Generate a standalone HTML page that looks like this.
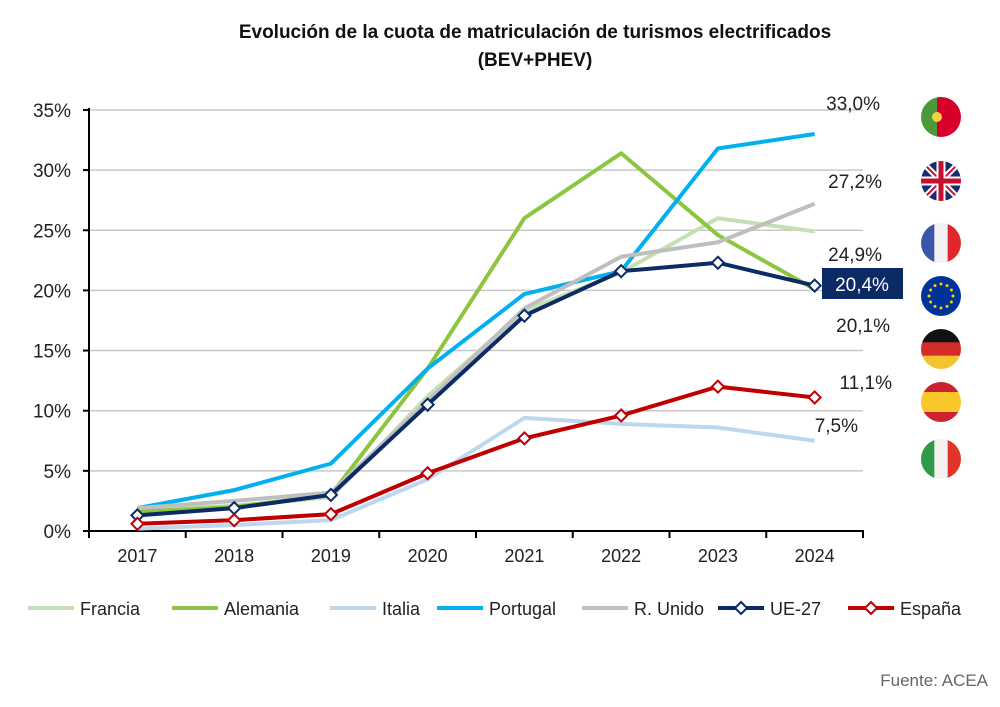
<!DOCTYPE html>
<html><head><meta charset="utf-8"><style>
body{margin:0;background:#fff;width:1000px;height:702px;overflow:hidden;font-family:"Liberation Sans",sans-serif}
</style></head><body>
<svg id="s" width="1000" height="702" xmlns="http://www.w3.org/2000/svg" font-family="Liberation Sans, sans-serif">
<text x="535" y="38" text-anchor="middle" font-size="19" font-weight="bold" fill="#111">Evolución de la cuota de matriculación de turismos electrificados</text>
<text x="535" y="66" text-anchor="middle" font-size="19" font-weight="bold" fill="#111">(BEV+PHEV)</text>
<text x="988" y="686" text-anchor="end" font-size="17" fill="#666">Fuente: ACEA</text>
</svg>
<script>
const s=document.getElementById('s');const NS='http://www.w3.org/2000/svg';
function el(t,a,txt){const e=document.createElementNS(NS,t);for(const k in a)e.setAttribute(k,a[k]);if(txt!=null)e.textContent=txt;s.appendChild(e);return e;}
const Y=v=>531-v*12.03, X=i=>137.4+i*96.75;
for(let k=0;k<=7;k++){const y=Y(k*5);
 if(k>0)el('line',{x1:89,x2:863,y1:y,y2:y,stroke:'#c8c8c8','stroke-width':1.5});
 el('line',{x1:83,x2:89,y1:y,y2:y,stroke:'#000','stroke-width':2});
 el('text',{x:71,y:y+7,'text-anchor':'end','font-size':19,fill:'#222'},(k*5)+'%');}
el('line',{x1:89,x2:89,y1:108,y2:533,stroke:'#000','stroke-width':2});
el('line',{x1:88,x2:864,y1:531,y2:531,stroke:'#000','stroke-width':2});
for(let i=0;i<=8;i++)el('line',{x1:89+i*96.75,x2:89+i*96.75,y1:531,y2:538,stroke:'#000','stroke-width':2});
for(let i=0;i<8;i++)el('text',{x:X(i),y:562,'text-anchor':'middle','font-size':18,fill:'#222'},2017+i);
const S=[
['Francia','#c5e0b4',[1.7,2.1,2.8,11.2,18.3,21.5,26,24.9],0],
['Alemania','#8cc63f',[1.6,2.0,3.0,13.5,26,31.4,24.6,20.1],0],
['Italia','#bdd7ee',[0.2,0.5,0.9,4.3,9.4,8.9,8.6,7.5],0],
['Portugal','#00b0f0',[1.9,3.4,5.6,13.5,19.7,21.6,31.8,33.0],0],
['R. Unido','#bfbfbf',[1.9,2.5,3.2,10.8,18.5,22.8,24,27.2],0],
['UE-27','#0c2a66',[1.3,1.9,3.0,10.5,17.9,21.6,22.3,20.4],1],
['España','#c00000',[0.6,0.9,1.4,4.8,7.7,9.6,12.0,11.1],1]];
const dia=(x,y,c)=>el('polygon',{points:`${x},${y-6} ${x+6},${y} ${x},${y+6} ${x-6},${y}`,fill:'#fff',stroke:c,'stroke-width':2});
S.forEach(([n,c,d,m])=>{el('polyline',{points:d.map((v,i)=>X(i)+','+Y(v)).join(' '),fill:'none',stroke:c,'stroke-width':4,'stroke-linejoin':'round'});
 if(m)d.forEach((v,i)=>dia(X(i),Y(v),c));});
// labels
[['33,0%',880,110],['27,2%',882,188],['24,9%',882,261],['20,1%',890,332],['11,1%',892,389],['7,5%',858,432]].forEach(([t,x,y])=>el('text',{x,y,'text-anchor':'end','font-size':19,fill:'#222'},t));
el('rect',{x:822,y:268,width:81,height:31,fill:'#0c2a66'});
el('text',{x:862,y:291,'text-anchor':'middle','font-size':19,fill:'#fff'},'20,4%');
// flags
const fl=[[117,['#4a9a3a','#d8002a']],[181,['#1a2a6c']],[243,['#3a56a8','#f2f2f2','#e0262d']],[296,['#003399']],[349,['#111','#d42b2b','#f4c330']],[402,['#cc2230','#f9c72a','#cc2230']],[459,['#2e9a48','#f2f2f2','#e0352b']]];
fl.forEach(([cy,cols],k)=>{const cx=941,r=20;
 const cp='c'+k;const d=el('clipPath',{id:cp});const ci=document.createElementNS(NS,'circle');ci.setAttribute('cx',cx);ci.setAttribute('cy',cy);ci.setAttribute('r',r);d.appendChild(ci);
 const g=el('g',{'clip-path':`url(#${cp})`});
 const add=(t,a)=>{const e=document.createElementNS(NS,t);for(const q in a)e.setAttribute(q,a[q]);g.appendChild(e);};
 if(k==0){add('rect',{x:cx-r,y:cy-r,width:16,height:40,fill:cols[0]});add('rect',{x:cx-4,y:cy-r,width:24,height:40,fill:cols[1]});add('circle',{cx:cx-4,cy,r:5,fill:'#f4d03f'});}
 else if(k==1){add('rect',{x:cx-r,y:cy-r,width:40,height:40,fill:'#1a2a6c'});add('path',{d:`M${cx-r} ${cy-r}L${cx+r} ${cy+r}M${cx+r} ${cy-r}L${cx-r} ${cy+r}`,stroke:'#fff','stroke-width':6});add('path',{d:`M${cx-r} ${cy-r}L${cx+r} ${cy+r}M${cx+r} ${cy-r}L${cx-r} ${cy+r}`,stroke:'#c8102e','stroke-width':2});add('path',{d:`M${cx} ${cy-r}V${cy+r}M${cx-r} ${cy}H${cx+r}`,stroke:'#fff','stroke-width':9});add('path',{d:`M${cx} ${cy-r}V${cy+r}M${cx-r} ${cy}H${cx+r}`,stroke:'#c8102e','stroke-width':5});}
 else if(k==3){add('rect',{x:cx-r,y:cy-r,width:40,height:40,fill:cols[0]});for(let j=0;j<12;j++){const a=j*Math.PI/6;add('circle',{cx:cx+12*Math.cos(a),cy:cy+12*Math.sin(a),r:1.5,fill:'#fc0'});}}
 else if(k==4||k==5){const h=k==5?[10,20,10]:[13.3,13.4,13.3];let y0=cy-r;cols.forEach((c,j)=>{add('rect',{x:cx-r,y:y0,width:40,height:h[j]+0.5,fill:c});y0+=h[j];});}
 else {cols.forEach((c,j)=>add('rect',{x:cx-r+j*13.33,y:cy-r,width:13.8,height:40,fill:c}));}
});
// legend
let lx=[28,172,330,437,582,718,848];
S.forEach(([n,c,d,m],i)=>{const x=lx[i];el('line',{x1:x,x2:x+46,y1:608,y2:608,stroke:c,'stroke-width':4});if(m)dia(x+23,608,c);
 el('text',{x:x+52,y:615,'font-size':18,fill:'#222'},n);});
</script>
</body></html>
